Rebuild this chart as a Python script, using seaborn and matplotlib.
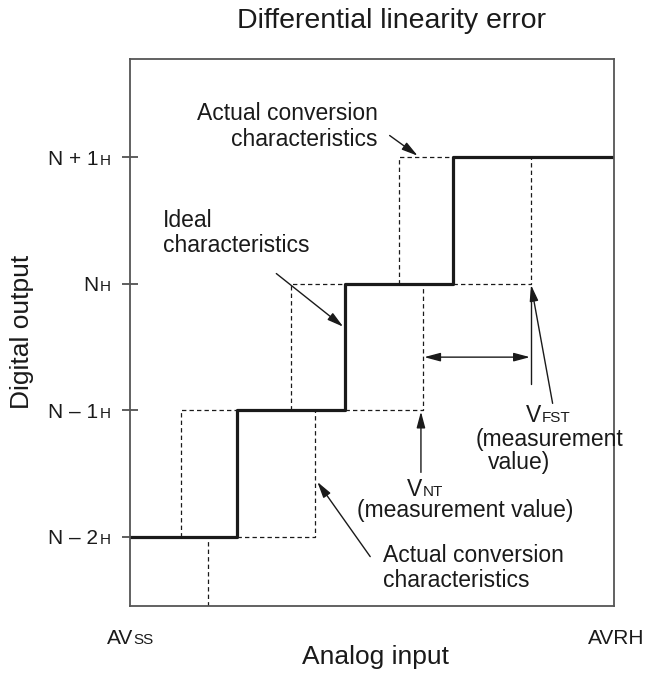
import numpy as np
import pandas as pd
import seaborn as sns
import matplotlib
matplotlib.use("Agg")
import matplotlib.pyplot as plt

# ── Data ────────────────────────────────────────────────────
levels = [0, 1, 2, 3]
level_main = ["N \u2013 2", "N \u2013 1", "N", "N + 1"]
level_sub = ["H", "H", "H", "H"]

X_MAX = 4.49
Y_MIN, Y_MAX = -0.545, 3.774

# ideal characteristic (steps-post)
ideal_x = [0.0, 1.0, 2.0, 3.0, X_MAX]
ideal_y = [0, 1, 2, 3, 3]

# actual conversion characteristics (dashed polylines)
actual_x = [
    [0.48, 0.48, 1.0],
    [1.0, 1.72, 1.72],
    [0.73, 0.73],
    [1.5, 1.5, 2.0],
    [2.0, 2.72, 2.72],
    [2.5, 2.5, 3.0],
    [3.0, 3.72, 3.72],
]
actual_y = [
    [0, 1, 1],
    [0, 0, 1],
    [Y_MIN, 0],
    [1, 2, 2],
    [1, 1, 2],
    [2, 3, 3],
    [2, 2, 3],
]

# ── Style ───────────────────────────────────────────────────
sns.set_theme(style="white")
plt.rcParams["font.family"] = ["Liberation Sans", "DejaVu Sans"]
INK = "#1a1a1a"
ANN_FS = 16.5
SUB_FS = 11

fig = plt.figure(figsize=(6.47, 6.86), dpi=100)
ax = fig.add_axes([0.2002, 0.1166, 0.749, 0.7974])

# solid ideal staircase
sns.lineplot(x=ideal_x, y=ideal_y, ax=ax, drawstyle="steps-post",
             color=INK, lw=2.3, estimator=None, sort=False, legend=False)

# dashed actual staircases
for xs, ys in zip(actual_x, actual_y):
    sns.lineplot(x=xs, y=ys, ax=ax, color=INK, lw=0.9,
                 linestyle=(0, (3.5, 2.5)), estimator=None, sort=False,
                 legend=False)

ax.set_xlim(0, X_MAX)
ax.set_ylim(Y_MIN, Y_MAX)

for sp in ax.spines.values():
    sp.set_color("#555555")
    sp.set_linewidth(1.3)

ax.set_xticks([])
ax.set_yticks(levels, labels=[""] * len(levels))
ax.tick_params(axis="y", direction="inout", length=11, width=1.1,
               color="#333333", left=True)

# y tick labels: main text + small "H"
for lvl, main, sub in zip(levels, level_main, level_sub):
    ax.annotate(main, xy=(0, lvl), xycoords=("axes fraction", "data"),
                xytext=(-22.5, -5.4), textcoords="offset points",
                ha="right", va="baseline", fontsize=15, color=INK)
    ax.annotate(sub, xy=(0, lvl), xycoords=("axes fraction", "data"),
                xytext=(-21.8, -5.4), textcoords="offset points",
                ha="left", va="baseline", fontsize=SUB_FS, color=INK)

# x end labels
ax.annotate("AV", xy=(0, 0), xycoords="axes fraction",
            xytext=(3, -27), textcoords="offset points",
            ha="right", va="baseline", fontsize=15, color=INK)
ax.annotate("SS", xy=(0, 0), xycoords="axes fraction",
            xytext=(2.6, -27), textcoords="offset points",
            ha="left", va="baseline", fontsize=SUB_FS, color=INK)
ax.annotate("AVRH", xy=(1, 0), xycoords="axes fraction",
            xytext=(1.5, -27), textcoords="offset points",
            ha="center", va="baseline", fontsize=15, color=INK)

# titles / axis labels
fig.text(0.605, 0.969, "Differential linearity error", ha="center",
         va="center", fontsize=20.5, color=INK)
fig.text(0.034, 0.516, "Digital output", ha="center", va="center",
         rotation=90, fontsize=19, color=INK)
fig.text(0.58, 0.042, "Analog input", ha="center", va="center",
         fontsize=19, color=INK)

# ── Annotations ─────────────────────────────────────────────
ARW = dict(arrowstyle="-|>,head_length=0.75,head_width=0.2",
           color=INK, lw=1.0, shrinkA=0, shrinkB=0, mutation_scale=13)

ax.text(2.30, 3.24, "Actual conversion\ncharacteristics", ha="right",
        va="center", multialignment="right", fontsize=ANN_FS, color=INK,
        linespacing=1.15)
ax.annotate("", xy=(2.67, 3.01), xytext=(2.41, 3.17), arrowprops=ARW)

ax.text(0.31, 2.40, "Ideal\ncharacteristics", ha="left", va="center",
        fontsize=ANN_FS, color=INK, linespacing=1.15)
ax.annotate("", xy=(1.98, 1.66), xytext=(1.36, 2.08), arrowprops=ARW)

ax.text(2.35, -0.245, "Actual conversion\ncharacteristics", ha="left",
        va="center", fontsize=ANN_FS, color=INK, linespacing=1.15)
ax.annotate("", xy=(1.74, 0.435), xytext=(2.23, -0.155), arrowprops=ARW)

# V_NT
ax.annotate("", xy=(2.70, 0.99), xytext=(2.70, 0.51), arrowprops=ARW)
ax.text(2.71, 0.324, "V", ha="right", va="baseline", fontsize=ANN_FS, color=INK)
ax.text(2.715, 0.324, "NT", ha="left", va="baseline", fontsize=SUB_FS, color=INK)
ax.text(3.11, 0.158, "(measurement value)", ha="center", va="baseline",
        fontsize=ANN_FS, color=INK)

# V_FST
ax.plot([3.72, 3.72], [1.21, 1.95], color=INK, lw=1.0)
ax.annotate("", xy=(3.72, 1.99), xytext=(3.92, 1.055), arrowprops=ARW)
ax.annotate("", xy=(3.71, 1.42), xytext=(2.73, 1.42),
            arrowprops=dict(ARW, arrowstyle="<|-|>,head_length=0.75,head_width=0.2"))
ax.text(3.81, 0.91, "V", ha="right", va="baseline", fontsize=ANN_FS, color=INK)
ax.text(3.815, 0.91, "FST", ha="left", va="baseline", fontsize=SUB_FS, color=INK)
ax.text(3.21, 0.72, "(measurement", ha="left", va="baseline",
        fontsize=ANN_FS, color=INK)
ax.text(3.32, 0.54, "value)", ha="left", va="baseline",
        fontsize=ANN_FS, color=INK)

fig.savefig("out.png", dpi=100)
